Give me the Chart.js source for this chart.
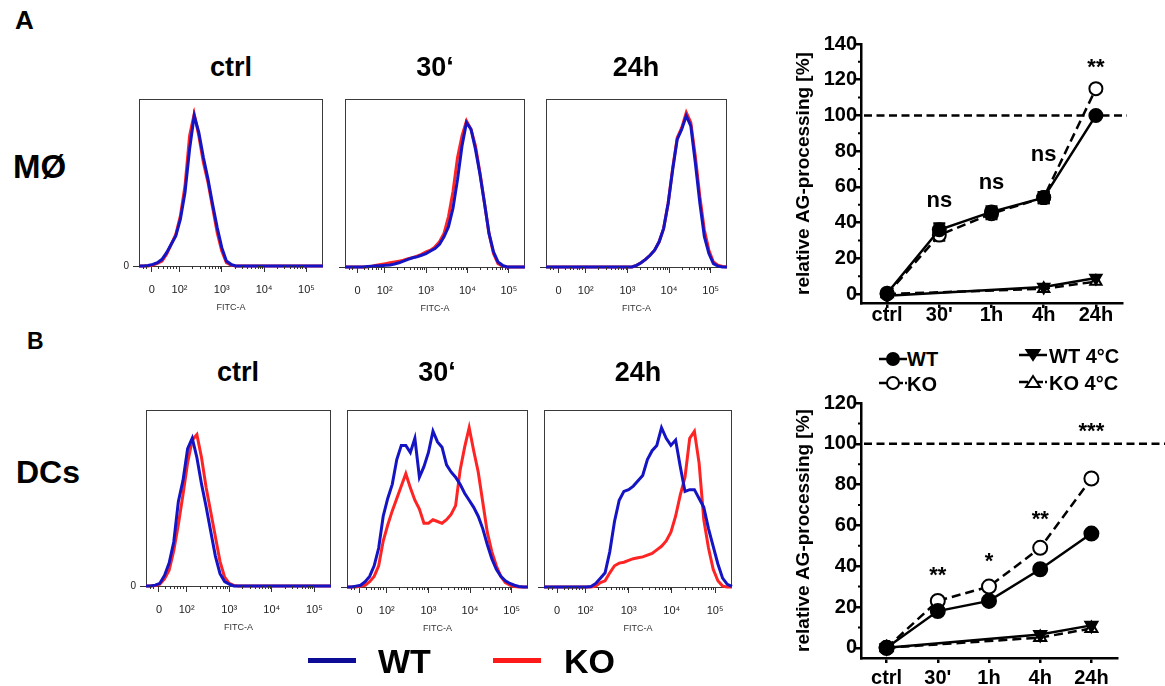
<!DOCTYPE html>
<html>
<head>
<meta charset="utf-8">
<script src="https://cdn.jsdelivr.net/npm/chart.js@4.4.0/dist/chart.umd.min.js"></script>
<style>
  html, body { margin: 0; padding: 0; }
  body { width: 1165px; height: 686px; position: relative; overflow: hidden; background: #fff;
         font-family: 'Liberation Sans', Arial, sans-serif; }
  .t { position: absolute; font-weight: bold; color: #000; white-space: nowrap; line-height: 1; }
  .swatch { position: absolute; height: 5px; }
</style>
</head>
<body>
<script>
// ---------- data ----------
// histogram channel positions (percent of the FITC-A axis)
const histX = [0,2.5,5,7.5,10,12.5,15,17.5,20,22.5,25,27.5,30,32.5,35,37.5,40,42.5,45,47.5,50,
               52.5,55,57.5,60,62.5,65,67.5,70,72.5,75,77.5,80,82.5,85,87.5,90,92.5,95,97.5,100];

// MØ histograms (percent of max count)
const macCtrlWT = [0,0,0.3,1,2,4,8,13,18,28,44,70,90,80,65,52,37,23,11,3,1,
                   0,0,0,0,0,0,0,0,0,0,0,0,0,0,0,0,0,0,0,0];
const macCtrlKO = [0,0,0,0.5,1.5,3,7,13,19,30,48,78,91,78,62,50,35,20,9,2,0.5,
                   0,0,0,0,0,0,0,0,0,0,0,0,0,0,0,0,0,0,0,0];
const mac30WT = [0,0,0,0,0,0.3,0.5,0.7,0.8,1,1.2,1.8,2.5,3.5,4.5,5.5,6,7,8,9.5,11,
                 13.5,18,24,35,52,72,86,82,70,55,38,20,9,3,1,0,0,0,0,0];
const mac30KO = [0,0,0,0,0,0,0.5,1,1.5,2,2.5,3,3.5,4,5,5.5,6.5,7.5,9,10,12,
                 15,20,30,45,65,78,87,82,72,56,38,20,8,2,0.5,0,0,0,0,0];
const mac24WT = [0,0,0,0,0,0,0,0,0,0,0,0,0,0,0,0,0,0,0,0,
                 1,2.5,4.5,7,10,15,23,38,58,76,82,90,84,62,38,18,8,2,0.5,0,0];
const mac24KO = [0,0,0,0,0,0,0,0,0,0,0,0,0,0,0,0,0,0,0,0,
                 1,2.5,4.5,7,10,15,23,38,59,77,83,92,86,66,42,22,10,3,1,0.3,0];

// DC histograms
const dcCtrlWT = [0,0,0.5,1.5,6,13,25,48,60,78,84,73,58,45,31,17,7,2.5,1,0,
                  0,0,0,0,0,0,0,0,0,0,0,0,0,0,0,0,0,0,0,0,0];
const dcCtrlKO = [0,0,0.3,1,4,9,20,35,52,70,83,86,73,56,42,28,14,5,1.5,0.3,
                  0,0,0,0,0,0,0,0,0,0,0,0,0,0,0,0,0,0,0,0,0];
const dc30WT = [0,0,0.5,1,3,6,12,22,40,50,58,72,80,80,76,84,62,68,76,88,
                82,79,69,65,62,58,53,49,45,40,33,24,16,10,6,3.5,2,1,0.3,0,0];
const dc30KO = [0,0,0,0.5,1,3,6,12,26,35,43,50,57,64,56,49,44,36,36,38,
                37,36,38,41,46,66,79,90,77,65,48,31,20,12,6,2.5,1,0.3,0,0,0];
const dc24WT = [0,0,0,0,0,0,0,0,0,0,0.3,2,5,8,20,37,49,54,55,57,
                60,63,72,77,80,90,84,80,83,68,54,55,55,50,45,33,23,13,5,1.5,0.3];
const dc24KO = [0,0,0,0,0,0,0,0,0,0,0,0.5,2.5,3.5,8,12,13.5,14,15,16,
                16.5,17,18,19,21,23,26,31,40,52,62,84,88,70,38,22,10,3.5,0.5,0,0];

const fitcTickPos = [7, 22, 45, 68, 91];
const fitcTickLabels = ['0', '10²', '10³', '10⁴', '10⁵'];

// time-course panels
const timepoints = ['ctrl', "30'", '1h', '4h', '24h'];
const macWT  = [0.5, 36, 46, 54, 100];
const macKO  = [0, 33, 45, 54, 115];
const macWT4 = [-1, null, null, 4, 9];
const macKO4 = [0, null, null, 3, 7];
const macWTerr = [0, 3.5, 3, 3, 0];
const macKOerr = [0, 3, 3, 3, 0];
const macYTicks = [0, 20, 40, 60, 80, 100, 120, 140];
const macSigText = ['', 'ns', 'ns', 'ns', '**'];
const macSigY = [null, 52, 62, 77.7, 126.5];

const dcWT  = [0, 18, 23, 38.5, 56];
const dcKO  = [0, 23, 30, 49, 83];
const dcWT4 = [0, null, null, 6.5, 11];
const dcKO4 = [0, null, null, 5, 9.5];
const dcYTicks = [0, 20, 40, 60, 80, 100, 120];
const dcSigText = ['', '**', '*', '**', '***'];
const dcSigY = [null, 35, 42.3, 62.7, 106];

// ---------- helpers ----------
const FONT = "'Liberation Sans', Arial, sans-serif";
const BLUE = '#1414c4', RED = '#ff2424';
Chart.defaults.font.family = FONT;

function makeCanvas(l, t, w, h){
  const c = document.createElement('canvas');
  c.width = w; c.height = h;
  c.style.cssText = `position:absolute;left:${l}px;top:${t}px;width:${w}px;height:${h}px`;
  document.body.appendChild(c);
  return c;
}
// text placed by its baseline
function text(str, x, base, size, center){
  const d = document.createElement('div');
  d.className = 't';
  d.textContent = str;
  d.style.fontSize = size + 'px';
  d.style.top = (base - 0.847 * size) + 'px';
  d.style.left = x + 'px';
  if(center) d.style.transform = 'translateX(-50%)';
  document.body.appendChild(d);
  return d;
}

// ---------- histograms ----------
const Y_W = 30, X_H = 52, PAD_T = 4, PAD_R = 14;
const fitcMinor = [2, 4, 10.5, 13, 15, 17, 18.5, 20];
[22, 45, 68].forEach(d => { for(let k = 2; k <= 9; k++) fitcMinor.push(d + 23 * Math.log10(k)); });

const boxPlugin = {
  id: 'histBox',
  beforeDatasetsDraw(chart){
    const {ctx, chartArea: a} = chart;
    ctx.save();
    ctx.strokeStyle = '#3a3a3a'; ctx.lineWidth = 1;
    ctx.strokeRect(a.left + 0.5, a.top + 0.5, a.right - a.left - 1, a.bottom - a.top);
    ctx.restore();
  },
  afterDraw(chart){
    const {ctx, chartArea: a, scales: {x}} = chart;
    ctx.save();
    ctx.strokeStyle = '#333'; ctx.lineWidth = 1;
    ctx.beginPath();
    fitcMinor.forEach(v => {
      const px = Math.round(x.getPixelForValue(v)) + 0.5;
      ctx.moveTo(px, a.bottom); ctx.lineTo(px, a.bottom + 3);
    });
    ctx.stroke();
    ctx.restore();
  }
};

function histogram(box, wt, ko, showZero){
  const w = box.r - box.l, h = box.b - box.t;
  const cv = makeCanvas(box.l - Y_W, box.t - PAD_T, w + Y_W + PAD_R, h + PAD_T + X_H);
  const line = (vals, color) => ({
    data: histX.map((x, i) => ({x, y: vals[i]})),
    borderColor: color, borderWidth: 3, pointRadius: 0, tension: 0, clip: 4, fill: false
  });
  return new Chart(cv, {
    type: 'line',
    data: { datasets: [ Object.assign(line(wt, BLUE), {label: 'WT'}), Object.assign(line(ko, RED), {label: 'KO'}) ] },
    options: {
      responsive: false, animation: false, devicePixelRatio: 1,
      layout: { padding: { top: PAD_T, right: PAD_R, left: 0, bottom: 0 } },
      plugins: { legend: { display: false }, tooltip: { enabled: false } },
      scales: {
        x: {
          type: 'linear', min: 0, max: 100,
          afterBuildTicks: s => { s.ticks = fitcTickPos.map(v => ({value: v})); },
          afterFit: s => { s.height = X_H; },
          ticks: { autoSkip: false, maxRotation: 0, padding: 11, color: '#222',
                   font: { size: 11 }, callback: (v, i) => fitcTickLabels[i] },
          grid: { drawOnChartArea: false, tickLength: 6, color: '#333', lineWidth: 1 },
          border: { display: false },
          title: { display: true, text: 'FITC-A', color: '#333', font: { size: 9 }, padding: { top: 0, bottom: 5 } }
        },
        y: {
          min: 0, max: 100,
          afterBuildTicks: s => { s.ticks = [{value: 0}]; },
          afterFit: s => { s.width = Y_W; },
          ticks: { padding: 4, color: '#222', font: { size: 10 }, callback: () => showZero ? '0' : '' },
          grid: { drawOnChartArea: false, tickLength: 6, color: '#333', lineWidth: 1 },
          border: { display: false }
        }
      }
    },
    plugins: [boxPlugin]
  });
}

histogram({l:139, t:93, r:323, b:266}, macCtrlWT, macCtrlKO, true);
histogram({l:345, t:93, r:525, b:267}, mac30WT, mac30KO, false);
histogram({l:546, t:93, r:727, b:267}, mac24WT, mac24KO, false);
histogram({l:146, t:404, r:331, b:586}, dcCtrlWT, dcCtrlKO, true);
histogram({l:347, t:404, r:528, b:587}, dc30WT, dc30KO, false);
histogram({l:544, t:404, r:732, b:587}, dc24WT, dc24KO, false);

// ---------- time courses ----------
function decorPlugin(cfg){
  return {
    id: 'decor',
    beforeDatasetsDraw(chart){
      const {ctx, chartArea: a, scales: {x, y}} = chart;
      ctx.save();
      // minor y ticks
      ctx.strokeStyle = '#000'; ctx.lineWidth = 2;
      ctx.beginPath();
      for(let i = 0; i < cfg.yTicks.length - 1; i++){
        const py = y.getPixelForValue((cfg.yTicks[i] + cfg.yTicks[i + 1]) / 2);
        ctx.moveTo(a.left - 3, py); ctx.lineTo(a.left, py);
      }
      ctx.stroke();
      // 100 % reference
      ctx.setLineDash([8, 4.5]); ctx.lineWidth = 2.5;
      const py = y.getPixelForValue(100);
      ctx.beginPath(); ctx.moveTo(a.left + 3, py); ctx.lineTo(a.right + cfg.refExtend, py); ctx.stroke();
      ctx.setLineDash([]);
      // error bars
      chart.data.datasets.forEach((ds, di) => {
        if(!ds.errors) return;
        const meta = chart.getDatasetMeta(di);
        ds.errors.forEach((e, i) => {
          if(!e || ds.data[i] == null) return;
          const px = meta.data[i].x;
          const y1 = y.getPixelForValue(ds.data[i] + e), y2 = y.getPixelForValue(ds.data[i] - e);
          ctx.beginPath();
          ctx.moveTo(px, y1); ctx.lineTo(px, y2);
          ctx.moveTo(px - 6, y1); ctx.lineTo(px + 6, y1);
          ctx.moveTo(px - 6, y2); ctx.lineTo(px + 6, y2);
          ctx.stroke();
        });
      });
      ctx.restore();
    },
    afterDraw(chart){
      const {ctx, scales: {x, y}} = chart;
      ctx.save();
      ctx.fillStyle = '#000'; ctx.font = 'bold 22px ' + FONT;
      ctx.textAlign = 'center'; ctx.textBaseline = 'middle';
      cfg.sigText.forEach((s, i) => {
        if(!s) return;
        ctx.fillText(s, x.getPixelForValue(i), y.getPixelForValue(cfg.sigY[i]));
      });
      ctx.restore();
    }
  };
}

function timecourse(g, s, cfg){
  const cv = makeCanvas(g.left, g.top, g.width, g.height);
  const common = { borderColor: '#000', borderWidth: 2.5, pointBorderColor: '#000', pointBorderWidth: 2,
                   pointRadius: g.r, pointHoverRadius: g.r, clip: false, tension: 0 };
  return new Chart(cv, {
    type: 'line',
    data: {
      labels: timepoints,
      datasets: [
        Object.assign({}, common, { label: 'WT', data: s.wt, errors: s.wtErr, pointStyle: 'circle', pointBackgroundColor: '#000' }),
        Object.assign({}, common, { label: 'KO', data: s.ko, errors: s.koErr, pointStyle: 'circle', pointBackgroundColor: '#fff', borderDash: [9, 5] }),
        Object.assign({}, common, { label: 'WT 4°C', data: s.wt4, pointStyle: 'triangle', pointRotation: 180, pointBackgroundColor: '#000', spanGaps: true }),
        Object.assign({}, common, { label: 'KO 4°C', data: s.ko4, pointStyle: 'triangle', pointBackgroundColor: '#fff', borderDash: [9, 5], spanGaps: true })
      ]
    },
    options: {
      responsive: false, animation: false, devicePixelRatio: 1,
      layout: { padding: { top: g.padTop, right: g.padRight, left: 0, bottom: 0 } },
      plugins: { legend: { display: false }, tooltip: { enabled: false } },
      scales: {
        x: {
          type: 'category', offset: true,
          afterFit: sc => { sc.height = g.xH; },
          ticks: { color: '#000', font: { size: 20, weight: 'bold' }, padding: g.xPad, maxRotation: 0, autoSkip: false },
          grid: { offset: false, drawOnChartArea: false, tickLength: 5, color: '#000', lineWidth: 2.5 },
          border: { color: '#000', width: 2.5 }
        },
        y: {
          min: -5, max: cfg.yTicks[cfg.yTicks.length - 1],
          afterBuildTicks: sc => { sc.ticks = cfg.yTicks.map(v => ({value: v})); },
          afterFit: sc => { sc.width = 76; },
          ticks: { color: '#000', font: { size: 20, weight: 'bold' }, padding: -1 },
          grid: { drawOnChartArea: false, tickLength: 5, color: '#000', lineWidth: 2.5 },
          border: { color: '#000', width: 2.5 },
          title: { display: true, text: 'relative AG-processing [%]', color: '#000',
                   font: { size: 19, weight: 'bold' }, padding: { top: 7, bottom: 0 } }
        }
      }
    },
    plugins: [decorPlugin(cfg)]
  });
}

timecourse({left: 785, top: 30, width: 380, height: 303, padTop: 14, padRight: 43, xH: 30, xPad: -5, r: 6.5},
  { wt: macWT, ko: macKO, wt4: macWT4, ko4: macKO4, wtErr: macWTerr, koErr: macKOerr },
  { yTicks: macYTicks, sigText: macSigText, sigY: macSigY, refExtend: 5 });

timecourse({left: 785, top: 390, width: 380, height: 296, padTop: 13, padRight: 48, xH: 28, xPad: 3, r: 7},
  { wt: dcWT, ko: dcKO, wt4: dcWT4, ko4: dcKO4 },
  { yTicks: dcYTicks, sigText: dcSigText, sigY: dcSigY, refExtend: 60 });

// ---------- legend for time courses ----------
function legendGlyph(cx, cy, shape, filled, dashed){
  const ns = 'http://www.w3.org/2000/svg';
  const svg = document.createElementNS(ns, 'svg');
  svg.setAttribute('width', 34); svg.setAttribute('height', 20);
  svg.style.cssText = `position:absolute;left:${cx - 17}px;top:${cy - 10}px`;
  const ln = document.createElementNS(ns, 'line');
  ln.setAttribute('x1', 3); ln.setAttribute('x2', 31); ln.setAttribute('y1', 10); ln.setAttribute('y2', 10);
  ln.setAttribute('stroke', '#000'); ln.setAttribute('stroke-width', 2.5);
  if(dashed) ln.setAttribute('stroke-dasharray', '9 2 2 2');
  svg.appendChild(ln);
  let m;
  if(shape === 'circle'){
    m = document.createElementNS(ns, 'circle');
    m.setAttribute('cx', 17); m.setAttribute('cy', 10); m.setAttribute('r', 6);
  } else {
    m = document.createElementNS(ns, 'polygon');
    m.setAttribute('points', shape === 'down' ? '10.5,5 23.5,5 17,15' : '17,4 24,15 10,15');
  }
  m.setAttribute('fill', filled ? '#000' : '#fff');
  m.setAttribute('stroke', '#000'); m.setAttribute('stroke-width', 2);
  svg.appendChild(m);
  document.body.appendChild(svg);
}
legendGlyph(893, 359, 'circle', true, false);  text('WT', 907, 366, 20);
legendGlyph(893, 383, 'circle', false, true);  text('KO', 907, 390.5, 20);
legendGlyph(1033, 355, 'down', true, false);   text('WT 4°C', 1049, 362.5, 20);
legendGlyph(1033, 382, 'up', false, true);     text('KO 4°C', 1049, 389.5, 20);

// ---------- labels ----------
text('A', 15, 29, 26);
text('B', 27, 349, 23);
text('MØ', 13, 178, 33);
text('DCs', 16, 483, 32);
text('ctrl', 231, 77, 27, true);
text('30‘', 435, 77, 27, true);
text('24h', 636, 77, 27, true);
text('ctrl', 238, 382, 27, true);
text('30‘', 437, 382, 27, true);
text('24h', 638, 382, 27, true);

// histogram legend
const sw1 = document.createElement('div'); sw1.className = 'swatch';
sw1.style.cssText += ';left:308px;top:658px;width:48px;background:#0c0c96';
document.body.appendChild(sw1);
const sw2 = document.createElement('div'); sw2.className = 'swatch';
sw2.style.cssText += ';left:493px;top:658px;width:48px;background:#ff1a1a';
document.body.appendChild(sw2);
text('WT', 378, 673, 34);
text('KO', 564, 673, 34);
</script>
</body>
</html>
